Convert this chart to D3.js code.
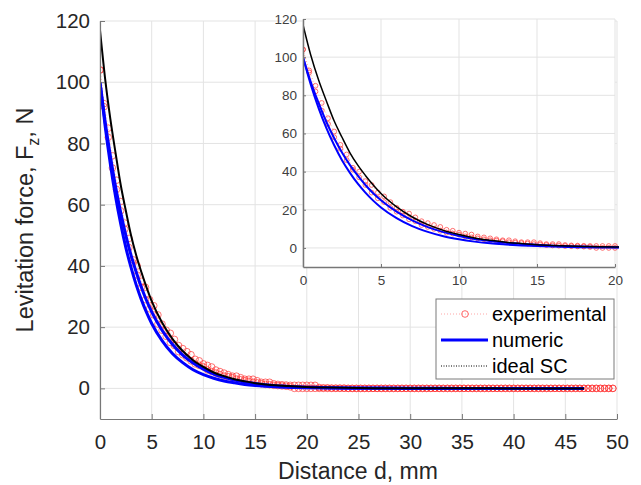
<!DOCTYPE html>
<html>
<head>
<meta charset="utf-8">
<script src="https://cdn.jsdelivr.net/npm/d3@7"></script>
<style>
  body { margin: 0; background: #fff; }
  svg { display: block; font-family: "Liberation Sans", Arial, sans-serif; }
</style>
</head>
<body>
<div id="chart"></div>
<script>
// measured points (distance in mm, force in N)
const expD = [
  0, 0.4, 0.8, 1.2, 1.6, 2, 2.4, 2.8, 3.2, 3.6,
  4, 4.4, 4.8, 5.2, 5.6, 6, 6.4, 6.8, 7.2, 7.6,
  8, 8.4, 8.8, 9.2, 9.6, 10, 10.4, 10.8, 11.2, 11.6,
  12, 12.4, 12.8, 13.2, 13.6, 14, 14.4, 14.8, 15.2, 15.6,
  16, 16.4, 16.8, 17.2, 17.6, 18, 18.4, 18.8, 19.2, 19.6,
  20, 20.4, 20.8, 21.2, 21.6, 22, 22.4, 22.8, 23.2, 23.6,
  24, 24.4, 24.8, 25.2, 25.6, 26, 26.4, 26.8, 27.2, 27.6,
  28, 28.4, 28.8, 29.2, 29.6, 30, 30.4, 30.8, 31.2, 31.6,
  32, 32.4, 32.8, 33.2, 33.6, 34, 34.4, 34.8, 35.2, 35.6,
  36, 36.4, 36.8, 37.2, 37.6, 38, 38.4, 38.8, 39.2, 39.6,
  40, 40.4, 40.8, 41.2, 41.6, 42, 42.4, 42.8, 43.2, 43.6,
  44, 44.4, 44.8, 45.2, 45.6, 46, 46.4, 46.8, 47.2, 47.6,
  48, 48.4, 48.8, 49.2, 49.6
];
const expUp = [
  104, 93, 85, 76, 68, 61, 54, 49, 42, 40,
  35, 33, 29, 27, 24, 21, 19, 18, 16, 14,
  13, 12, 11, 9.5, 9, 8, 7.5, 7, 6, 5.5,
  5, 4.5, 4, 4, 3.5, 3, 3, 3, 2.5, 2,
  2, 2, 1.5, 1.3, 1.2, 1.1, 1, 1, 1, 1,
  1, 1, 1, 0.3, 0.2, 0.2, 0.1, 0.1, 0.1, 0.1,
  0, 0, 0, 0, 0, 0, 0, 0, 0, 0,
  0, 0, 0, 0, 0, 0, 0, 0, 0, 0,
  0, 0, 0, 0, 0, 0, 0, 0, 0, 0,
  0, 0, 0, 0, 0, 0, 0, 0, 0, 0,
  0, 0, 0, 0, 0, 0, 0, 0, 0, 0,
  0, 0, 0, 0, 0, 0, 0, 0, 0, 0,
  0, 0, 0, 0, 0
];
const expDown = [
  104, 92, 82, 72, 65, 58, 52, 46, 41, 37,
  33, 29, 26, 24, 21, 19, 17, 15, 14, 12,
  11, 10, 9, 8, 7.5, 7, 6, 5.5, 5, 4.5,
  4, 3.8, 3.5, 3, 2.8, 2.5, 2.3, 2, 1.8, 1.5,
  1.3, 1.2, 1, 0.9, 0.8, 0.7, 0.5, 0, 0, 0,
  0, 0, 0, 0, 0, 0, 0, 0, 0, 0,
  0, 0, 0, 0, 0, 0, 0, 0, 0, 0,
  0, 0, 0, 0, 0, 0, 0, 0, 0, 0,
  0, 0, 0, 0, 0, 0, 0, 0, 0, 0,
  0, 0, 0, 0, 0, 0, 0, 0, 0, 0,
  0, 0, 0, 0, 0, 0, 0, 0, 0, 0,
  0, 0, 0, 0, 0, 0, 0, 0, 0, 0,
  0, 0, 0, 0, 0
];

// computed curves
const lineD = [0, 0.5, 1, 1.5, 2, 2.5, 3, 3.5, 4, 4.5, 5, 6, 7, 8, 9, 10, 11, 12, 13, 14,
  15, 16, 17, 18, 19, 20, 22, 25, 30, 35, 40, 46.8];
const idealSC = [117, 101, 88, 77, 66.5, 58, 50, 43.5, 38, 33, 28.5, 21.5, 16.2, 12.2, 9.2, 7, 5.2, 4, 3, 2.3,
  1.7, 1.3, 1, 0.8, 0.6, 0.45, 0.25, 0.1, 0.03, 0.01, 0, 0];
const numericA = [100, 87, 76, 66, 57.5, 50, 43.5, 38, 33, 28.7, 25, 19, 14.4, 10.9, 8.3, 6.3, 4.7, 3.6, 2.7, 2.1,
  1.6, 1.2, 0.9, 0.7, 0.5, 0.4, 0.22, 0.1, 0.02, 0, 0, 0];
const numericB = [100, 85.6, 73.3, 62.8, 53.8, 46, 39.5, 33.8, 29, 24.8, 21.2, 15.6, 11.4, 8.4, 6.1, 4.5, 3.3, 2.4, 1.8, 1.3,
  0.95, 0.7, 0.5, 0.38, 0.28, 0.2, 0.1, 0.04, 0, 0, 0, 0];

const mainXTicks = [0, 5, 10, 15, 20, 25, 30, 35, 40, 45, 50];
const mainYTicks = [0, 20, 40, 60, 80, 100, 120];
const insetXTicks = [0, 5, 10, 15, 20];
const insetYTicks = [0, 20, 40, 60, 80, 100, 120];
const legendLabels = ["experimental", "numeric", "ideal SC"];

const W = 641, H = 485;
const svg = d3.select("#chart").append("svg").attr("width", W).attr("height", H);

const expUpPts = expD.map((d, i) => [d, expUp[i]]);
const expDownPts = expD.map((d, i) => [d, expDown[i]]);

function drawPanel(box, xMax, xTicks, yTicks, opt) {
  const x = d3.scaleLinear().domain([0, xMax]).range([box.left, box.right]);
  const y = d3.scaleLinear().domain([-10, 120]).range([box.bottom, box.top]);
  const g = svg.append("g");
  const clipId = "clip" + opt.id;

  g.append("clipPath").attr("id", clipId).append("rect")
    .attr("x", box.left).attr("y", box.top - 4)
    .attr("width", box.right - box.left + 4).attr("height", box.bottom - box.top + 4);

  if (opt.fill) {
    g.append("rect").attr("x", box.left).attr("y", box.top)
      .attr("width", box.right - box.left).attr("height", box.bottom - box.top)
      .attr("fill", "#fff");
  }

  // grid
  g.selectAll(".vg").data(xTicks).enter().append("line")
    .attr("x1", d => x(d)).attr("x2", d => x(d))
    .attr("y1", box.top).attr("y2", box.bottom)
    .attr("stroke", "#e3e3e3").attr("stroke-width", 1);
  g.selectAll(".hg").data(yTicks).enter().append("line")
    .attr("x1", box.left).attr("x2", box.right)
    .attr("y1", d => y(d)).attr("y2", d => y(d))
    .attr("stroke", "#e3e3e3").attr("stroke-width", 1);

  const plot = g.append("g").attr("clip-path", `url(#${clipId})`);
  const line = d3.line().x(d => x(d[0])).y(d => y(d[1]));
  const smooth = d3.line().x(d => x(d[0])).y(d => y(d[1])).curve(d3.curveMonotoneX);

  const upPts = expUpPts.filter(p => p[0] <= xMax);
  const downPts = expDownPts.filter(p => p[0] <= xMax);

  // experimental: faint dotted line + open circles
  [upPts, downPts].forEach(pts => {
    plot.append("path").datum(pts).attr("d", line)
      .attr("fill", "none").attr("stroke", "#ff8080").attr("stroke-opacity", 0.5)
      .attr("stroke-width", 1).attr("stroke-dasharray", "1,2");
  });
  plot.selectAll(".cu").data(upPts.concat(downPts)).enter().append("circle")
    .attr("cx", d => x(d[0])).attr("cy", d => y(d[1])).attr("r", opt.r)
    .attr("fill", "none").attr("stroke", "#ff2a2a").attr("stroke-opacity", 0.65)
    .attr("stroke-width", 1);

  // numeric
  [numericA, numericB].forEach(arr => {
    plot.append("path").datum(lineD.map((d, i) => [d, arr[i]])).attr("d", smooth)
      .attr("fill", "none").attr("stroke", "#0000ff").attr("stroke-width", opt.blueW);
  });
  // ideal SC
  plot.append("path").datum(lineD.map((d, i) => [d, idealSC[i]])).attr("d", smooth)
    .attr("fill", "none").attr("stroke", "#000").attr("stroke-width", opt.blackW);

  // axes
  const ax = g.append("g").attr("transform", `translate(0,${box.bottom})`)
    .call(d3.axisBottom(x).tickValues(xTicks).tickSizeInner(-opt.tick).tickSizeOuter(0).tickPadding(opt.xPad));
  const ay = g.append("g").attr("transform", `translate(${box.left},0)`)
    .call(d3.axisLeft(y).tickValues(yTicks).tickSizeInner(-opt.tick).tickSizeOuter(0).tickPadding(opt.yPad));
  [ax, ay].forEach(a => {
    a.select(".domain").attr("stroke", "#777").attr("stroke-width", opt.axisW);
    a.selectAll(".tick line").attr("stroke", "#777");
    a.selectAll("text").attr("font-size", opt.fs).attr("fill", opt.textColor)
      .attr("font-family", "'Liberation Sans', Arial, sans-serif");
  });
  return { x, y };
}

// main axes
drawPanel({ left: 100, right: 617, top: 21, bottom: 419 }, 50, mainXTicks, mainYTicks,
  { id: "m", r: 3.3, blueW: 3, blackW: 2, tick: 5, xPad: 15, yPad: 10, axisW: 1.2, fs: 20.5, textColor: "#262626" });

// titles
svg.append("text").attr("x", 358).attr("y", 479).attr("text-anchor", "middle")
  .attr("font-size", 23).attr("fill", "#262626").text("Distance d, mm");
const yt = svg.append("text").attr("transform", "translate(33,220) rotate(-90)")
  .attr("text-anchor", "middle").attr("font-size", 23.5).attr("fill", "#262626");
yt.append("tspan").text("Levitation force, F");
yt.append("tspan").attr("font-size", 16).attr("dy", 6).text("z");
yt.append("tspan").attr("dy", -6).text(", N");

// inset axes
drawPanel({ left: 303, right: 615, top: 19, bottom: 267 }, 20, insetXTicks, insetYTicks,
  { id: "i", r: 2.4, blueW: 2, blackW: 1.5, tick: 3, xPad: 8, yPad: 6, axisW: 1.5, fs: 13.5, textColor: "#404040", fill: true });

// legend
const lg = svg.append("g");
lg.append("rect").attr("x", 436).attr("y", 299).attr("width", 178).attr("height", 80)
  .attr("fill", "#fff").attr("stroke", "#7a7a7a").attr("stroke-width", 1);
const rowY = [314, 340, 366];
lg.append("line").attr("x1", 441).attr("x2", 488).attr("y1", rowY[0]).attr("y2", rowY[0])
  .attr("stroke", "#ff8080").attr("stroke-opacity", 0.7).attr("stroke-dasharray", "1,2");
lg.append("circle").attr("cx", 465).attr("cy", rowY[0]).attr("r", 3.3)
  .attr("fill", "none").attr("stroke", "#ff2a2a").attr("stroke-opacity", 0.7);
lg.append("line").attr("x1", 441).attr("x2", 488).attr("y1", rowY[1]).attr("y2", rowY[1])
  .attr("stroke", "#0000ff").attr("stroke-width", 3);
lg.append("line").attr("x1", 441).attr("x2", 488).attr("y1", rowY[2]).attr("y2", rowY[2])
  .attr("stroke", "#000").attr("stroke-width", 1).attr("stroke-dasharray", "1,1.5");
lg.selectAll(".lt").data(legendLabels).enter().append("text")
  .attr("x", 492).attr("y", (d, i) => rowY[i] + 7)
  .attr("font-size", 20).attr("fill", "#000").text(d => d);
</script>
</body>
</html>
